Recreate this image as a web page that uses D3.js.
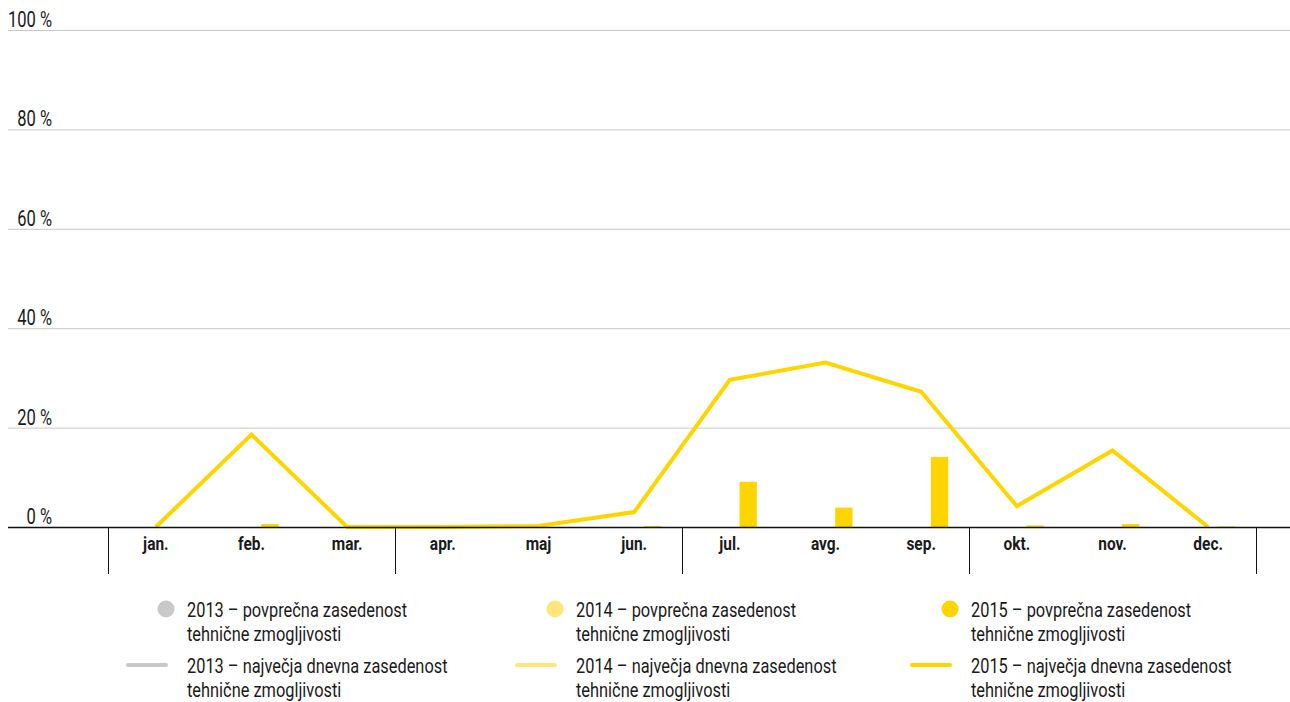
<!DOCTYPE html>
<html><head><meta charset="utf-8">
<script src="https://cdn.jsdelivr.net/npm/d3@7"></script>
<style>
html,body{margin:0;padding:0;background:#fff;}
svg{display:block;font-family:Roboto,"Noto Sans",sans-serif;}
</style></head><body>
<svg id="c" width="1290" height="702"></svg>
<script>
const months = ["jan.","feb.","mar.","apr.","maj","jun.","jul.","avg.","sep.","okt.","nov.","dec."];
const yTicks = [0,20,40,60,80,100];
const seriesYears = ["2013","2014","2015"];
const avg2013 = [null,null,null,null,null,null,null,null,null,null,null,null];
const avg2014 = [null,null,null,null,null,null,null,null,null,null,null,null];
const avg2015 = [0,0.6,0,0,0,0.2,9.1,3.9,14.1,0.3,0.6,0.1];
const max2013 = [null,null,null,null,null,null,null,null,null,null,null,null];
const max2014 = [null,null,null,null,null,null,null,null,null,null,null,null];
const max2015 = [0,18.6,0,0,0.2,3.0,29.6,33.1,27.2,4.2,15.4,0];
const colors = {"2013":"#c8c8c8","2014":"#ffe57a","2015":"#ffd500"};
const legendAvg = ["povprečna zasedenost","tehnične zmogljivosti"];
const legendMax = ["največja dnevna zasedenost","tehnične zmogljivosti"];

const svg = d3.select("#c");
const y = d3.scaleLinear().domain([0,100]).range([527,30]);
const x = d3.scaleBand().domain(months).range([108,1256]).padding(0);
const x1 = d3.scaleBand().domain(seriesYears).range([-27,27]).paddingInner(0.06);

// condensed text helper: text drawn in a group scaled horizontally
function ctext(parent, tx, ty, str, size, sx, anchor, weight){
  const g = parent.append("g").attr("transform",`translate(${tx},${ty}) scale(${sx},1)`);
  g.append("text").attr("x",0).attr("y",0).attr("font-size",size)
    .attr("text-anchor",anchor||"start").attr("font-weight",weight||"normal")
    .attr("fill","#1a1a1a").text(str);
  return g;
}
const SX = 0.86;

// gridlines
svg.append("g").selectAll("line").data(yTicks.filter(d=>d>0)).join("line")
  .attr("x1",8).attr("x2",1290).attr("y1",d=>y(d)+0.5).attr("y2",d=>y(d)+0.5)
  .attr("stroke","#c8c8c8").attr("stroke-width",1);
const gy = svg.append("g");
yTicks.forEach(d=>ctext(gy, 52, y(d)-3, d+" %", 22, 0.75, "end"));

// bars
const avgData = {"2013":avg2013,"2014":avg2014,"2015":avg2015};
seriesYears.forEach(s=>{
  svg.append("g").selectAll("rect").data(months.map((m,i)=>({m,v:avgData[s][i]})).filter(d=>d.v!=null)).join("rect")
    .attr("x",d=>x(d.m)+x.bandwidth()/2+x1(s)).attr("width",x1.bandwidth())
    .attr("y",d=>y(d.v)).attr("height",d=>y(0)-y(d.v)).attr("fill",colors[s]);
});

// lines
const maxData = {"2013":max2013,"2014":max2014,"2015":max2015};
const line = d3.line().defined(d=>d.v!=null).x(d=>x(d.m)+x.bandwidth()/2).y(d=>y(d.v));
seriesYears.forEach(s=>{
  svg.append("path").datum(months.map((m,i)=>({m,v:maxData[s][i]})))
    .attr("d",line).attr("fill","none").attr("stroke",colors[s]).attr("stroke-width",4)
    .attr("stroke-linejoin","miter");
});

// axis
svg.append("line").attr("x1",8).attr("x2",1290).attr("y1",y(0)+0.5).attr("y2",y(0)+0.5)
  .attr("stroke","#111").attr("stroke-width",1.3);
const seps = [0,3,6,9,12].map(i=> i<12 ? x(months[i]) : x(months[11])+x.bandwidth());
svg.append("g").selectAll("line").data(seps).join("line")
  .attr("x1",d=>Math.round(d)+0.5).attr("x2",d=>Math.round(d)+0.5).attr("y1",y(0)).attr("y2",574)
  .attr("stroke","#111").attr("stroke-width",1);
const gx = svg.append("g");
months.forEach(m=>ctext(gx, x(m)+x.bandwidth()/2, 550, m, 18, 0.86, "middle", "bold"));

// legend
const colX = [166,555,950];
seriesYears.forEach((s,i)=>{
  const g = svg.append("g");
  g.append("circle").attr("cx",colX[i]).attr("cy",609).attr("r",8.5).attr("fill",colors[s]);
  ctext(g, colX[i]+21, 616.5, s+" – "+legendAvg[0], 19.5, 0.84);
  ctext(g, colX[i]+21, 640.5, legendAvg[1], 19.5, 0.84);
  g.append("line").attr("x1",colX[i]-38).attr("x2",colX[i]).attr("y1",665).attr("y2",665)
    .attr("stroke",colors[s]).attr("stroke-width",4).attr("stroke-linecap","round");
  ctext(g, colX[i]+21, 673, s+" – "+legendMax[0], 19.5, 0.84);
  ctext(g, colX[i]+21, 697, legendMax[1], 19.5, 0.84);
});
</script>
</body></html>
